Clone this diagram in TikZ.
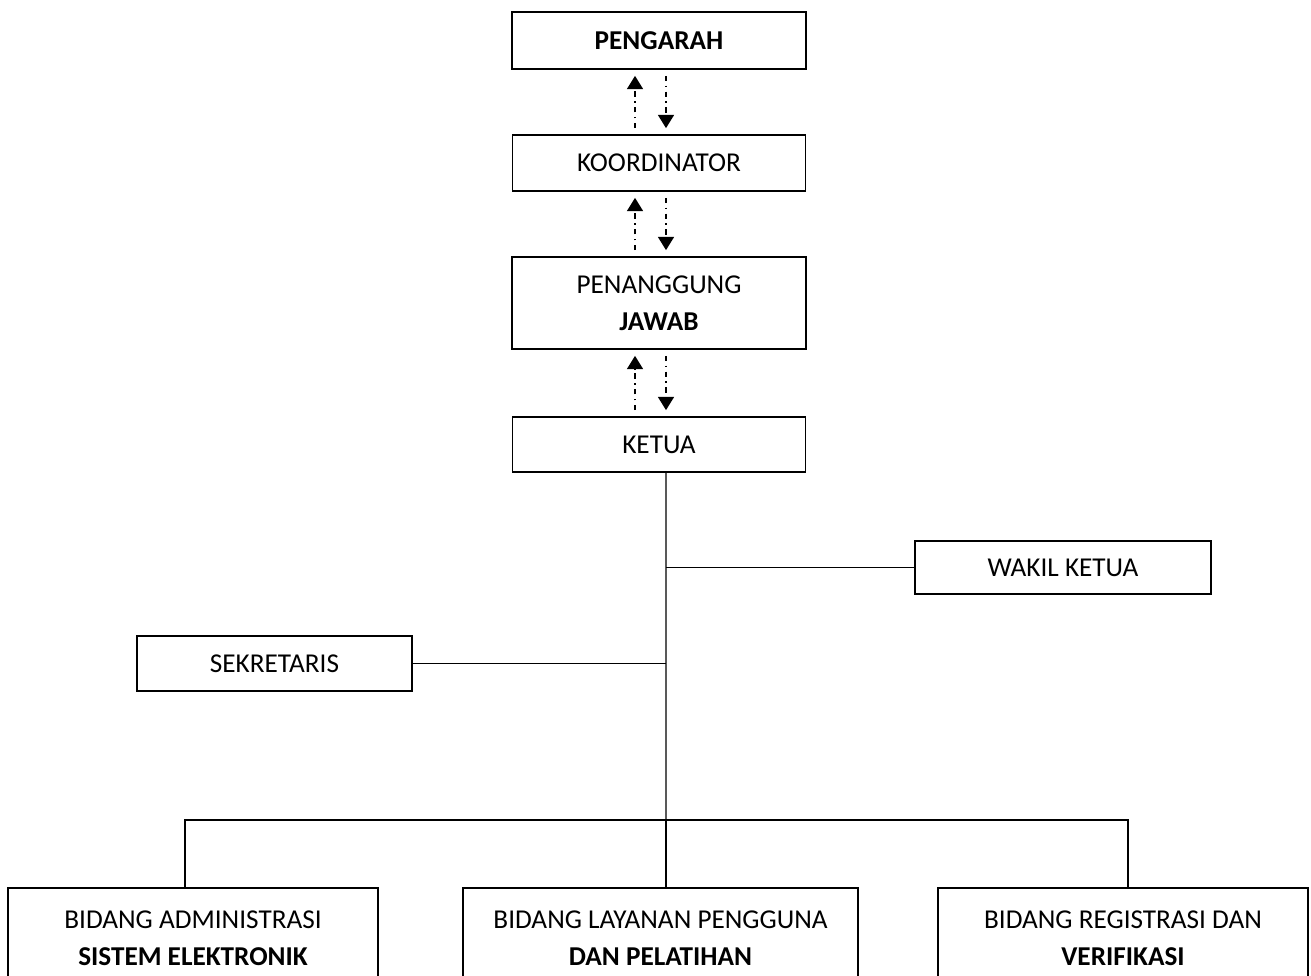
\documentclass[tikz,border=0pt]{standalone}
\usepackage{fontspec}
\setmainfont{Carlito}
\usetikzlibrary{arrows.meta}

\begin{document}
\begin{tikzpicture}[x=0.02cm,y=-0.02cm]
    \tikzstyle{unit}=[draw, line width=0.8pt, align=center, inner sep=0pt, font=\fontsize{15.5}{21}\selectfont]
    \tikzstyle{flow}=[line width=1pt, dash pattern=on 3pt off 2.5pt on 1pt off 2.5pt, -{Triangle[length=7.5pt,width=9pt]}, shorten <=3.5pt, shorten >=3.5pt]
    \tikzstyle{link}=[line width=0.8pt]
    \clip (0,0) rectangle (1311,976);
    \node[unit, minimum width=5.88cm, minimum height=1.14cm] (pengarah) at (659,40.5) {\textbf{PENGARAH}};
    \node[unit, minimum width=5.86cm, minimum height=1.12cm] (koordinator) at (659,163) {KOORDINATOR};
    \node[unit, minimum width=5.88cm, minimum height=1.84cm] (penanggung) at (659,303) {PENANGGUNG\\\textbf{JAWAB}};
    \node[unit, minimum width=5.86cm, minimum height=1.10cm] (ketua) at (659,444.5) {KETUA};
    \node[unit, minimum width=5.92cm, minimum height=1.06cm] (wakil) at (1063,567.5) {WAKIL KETUA};
    \node[unit, minimum width=5.50cm, minimum height=1.10cm] (sekretaris) at (274.5,663.5) {SEKRETARIS};
    \node[unit, minimum width=7.40cm, minimum height=2.00cm] (admin) at (193,938) {BIDANG ADMINISTRASI\\\textbf{SISTEM ELEKTRONIK}};
    \node[unit, minimum width=7.90cm, minimum height=2.00cm] (layanan) at (660.5,938) {BIDANG LAYANAN PENGGUNA\\\textbf{DAN PELATIHAN}};
    \node[unit, minimum width=7.40cm, minimum height=2.00cm] (registrasi) at (1123,938) {BIDANG REGISTRASI DAN\\\textbf{VERIFIKASI}};
    \coordinate (spine) at (666,820);

    \draw[flow] ([xshift=-0.48cm]koordinator.north) -- ([xshift=-0.48cm]pengarah.south);
    \draw[flow] ([xshift=0.14cm]pengarah.south) -- ([xshift=0.14cm]koordinator.north);
    \draw[flow] ([xshift=-0.48cm]penanggung.north) -- ([xshift=-0.48cm]koordinator.south);
    \draw[flow] ([xshift=0.14cm]koordinator.south) -- ([xshift=0.14cm]penanggung.north);
    \draw[flow] ([xshift=-0.48cm]ketua.north) -- ([xshift=-0.48cm]penanggung.south);
    \draw[flow] ([xshift=0.14cm]penanggung.south) -- ([xshift=0.14cm]ketua.north);

    \draw[link] ([xshift=0.14cm]ketua.south) -- (spine);
    \draw[link] (wakil.west) -- (wakil.west -| spine);
    \draw[link] (sekretaris.east) -- (sekretaris.east -| spine);
    \draw[link] ([xshift=-0.16cm]admin.north) |- (spine) -| ([xshift=0.1cm]registrasi.north);
    \draw[link] (spine) -- (spine |- layanan.north);
\end{tikzpicture}
\end{document}
